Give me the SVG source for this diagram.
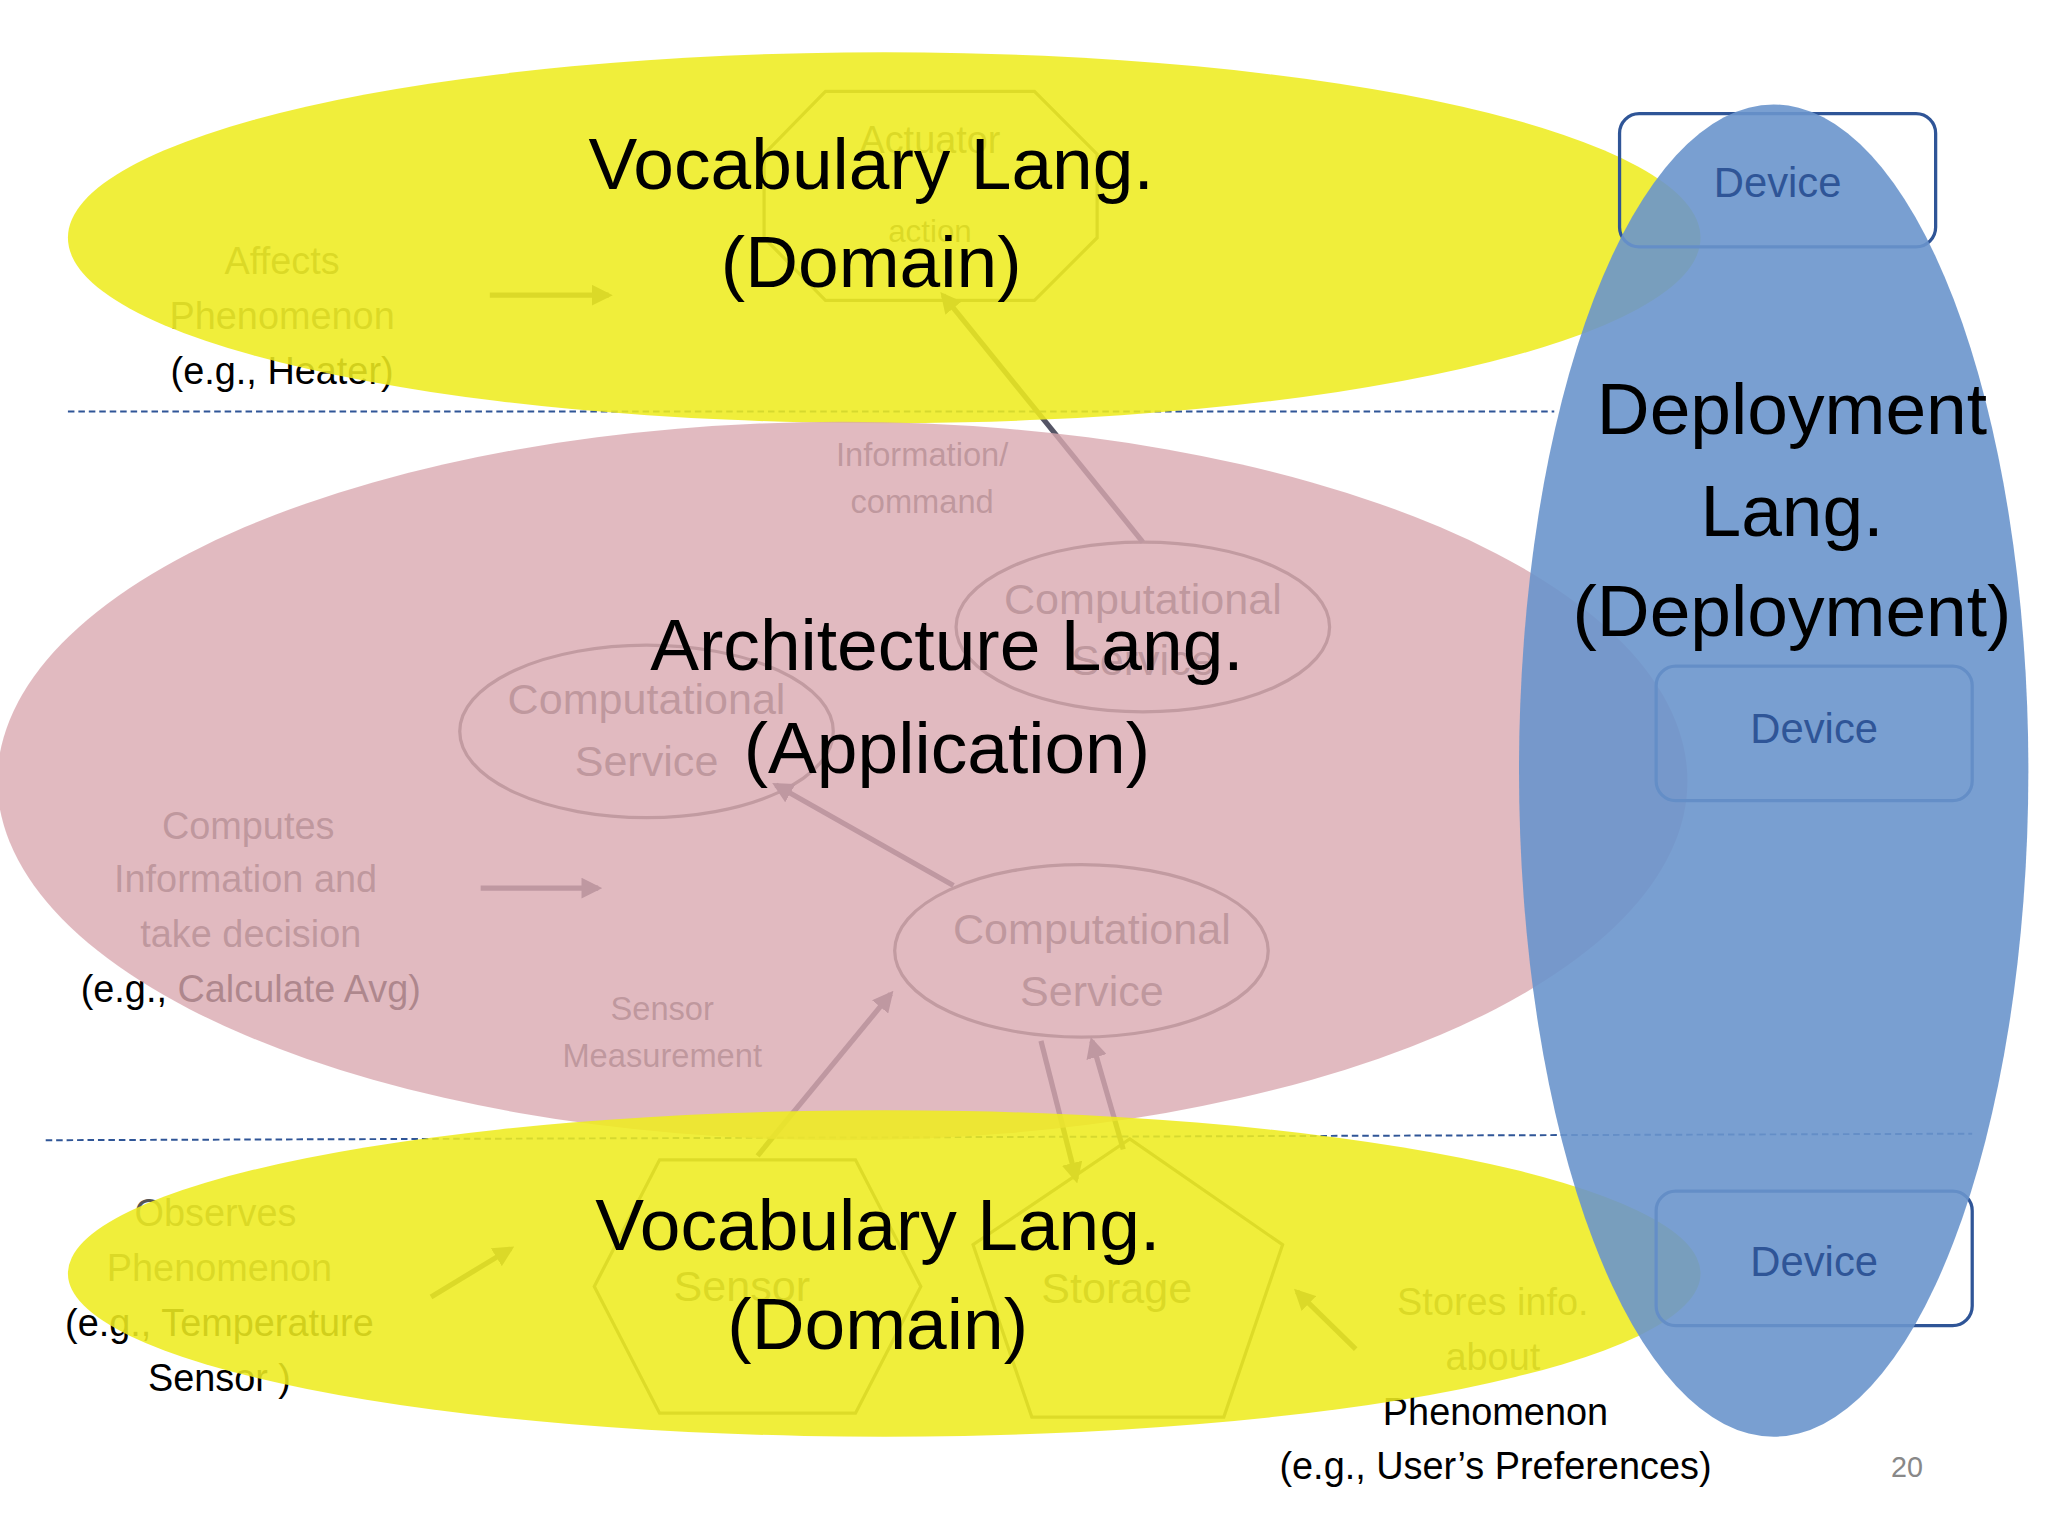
<svg xmlns="http://www.w3.org/2000/svg" width="2048" height="1536" viewBox="0 0 2048 1536">
<style>
text{font-family:"Liberation Sans",Arial,sans-serif;text-anchor:middle}
.u{font-size:29px;fill:#555}
.b{font-size:29px;fill:#000}
.big{font-size:56px;fill:#000}
.sh{fill:none;stroke:#666;stroke-width:2.5}
.ar{stroke:#556;stroke-width:4;fill:none;marker-end:url(#ah)}
.dev{fill:none;stroke:#2F5597;stroke-width:2.5}
.dt{font-size:32px;fill:#2F5597}
</style>
<defs><marker id="ah" viewBox="0 0 10 10" refX="8" refY="5" markerWidth="4" markerHeight="4" orient="auto"><path d="M0,0L10,5L0,10z" fill="#556"/></marker></defs>
<rect width="2048" height="1536" fill="#fff"/>
<g transform="scale(1.3061)">
<g id="under">
<line x1="52" y1="315" x2="1190" y2="315" stroke="#2F5597" stroke-dasharray="5,3" stroke-width="1.5"/>
<line x1="35" y1="873" x2="1510" y2="868" stroke="#2F5597" stroke-dasharray="5,3" stroke-width="1.5"/>
<polygon class="sh" points="632,70 792,70 840,118 840,182 792,230 632,230 585,182 585,118"/>
<text class="u" x="712" y="117">Actuator</text><text class="u" x="712" y="185" style="font-size:24px">action</text>
<text class="u" x="216" y="210">Affects</text><text class="u" x="216" y="252">Phenomenon</text><text class="b" x="216" y="294">(e.g., Heater)</text>
<text class="u" x="706" y="357" style="font-size:25px">Information/</text><text class="u" x="706" y="393" style="font-size:25px">command</text>
<ellipse class="sh" cx="875" cy="480" rx="143" ry="65"/><text class="u" x="875" y="470" style="font-size:33px">Computational</text><text class="u" x="875" y="517" style="font-size:33px">Service</text>
<ellipse class="sh" cx="495" cy="560" rx="143" ry="66"/><text class="u" x="495" y="547" style="font-size:33px">Computational</text><text class="u" x="495" y="594" style="font-size:33px">Service</text>
<ellipse class="sh" cx="828" cy="728" rx="143" ry="66"/><text class="u" x="836" y="723" style="font-size:33px">Computational</text><text class="u" x="836" y="770" style="font-size:33px">Service</text>
<text class="u" x="190" y="642">Computes</text><text class="u" x="188" y="683">Information and</text><text class="u" x="192" y="725">take decision</text><text class="b" x="192" y="767">(e.g., Calculate Avg)</text>
<text class="u" x="507" y="781" style="font-size:25px">Sensor</text><text class="u" x="507" y="817" style="font-size:25px">Measurement</text>
<polygon class="sh" points="455,985 505,888 655,888 705,985 655,1082 505,1082"/><text class="u" x="568" y="996" style="font-size:33px">Sensor</text>
<polygon class="sh" points="865,872 982,953 937,1085 790,1085 745,953"/><text class="u" x="855" y="998" style="font-size:33px">Storage</text>
<text class="u" x="165" y="939">Observes</text><text class="u" x="168" y="981">Phenomenon</text><text class="b" x="168" y="1023">(e.g., Temperature</text><text class="b" x="168" y="1065">Sensor )</text>
<text class="u" x="1143" y="1007">Stores info.</text><text class="u" x="1143" y="1049">about</text><text class="b" x="1145" y="1091">Phenomenon</text><text class="b" x="1145" y="1132">(e.g., User’s Preferences)</text>
<g id="connectors">
<line class="ar" x1="375" y1="226" x2="466" y2="226"/>
<line class="ar" x1="875" y1="415" x2="722" y2="226"/>
<line class="ar" x1="730" y1="678" x2="594" y2="601"/>
<line class="ar" x1="368" y1="680" x2="458" y2="680"/>
<line class="ar" x1="580" y1="885" x2="682" y2="761"/>
<line class="ar" x1="797" y1="797" x2="824" y2="903"/>
<line class="ar" x1="860" y1="880" x2="836" y2="797"/>
<line class="ar" x1="330" y1="993" x2="391" y2="956"/>
<line class="ar" x1="1038" y1="1033" x2="993" y2="989"/>
</g>
</g>
<ellipse id="topY" cx="677" cy="182" rx="625" ry="142" fill="#EEEC20" opacity="0.88"/>
<ellipse id="pink" cx="645" cy="598" rx="647" ry="275" fill="#D9A9B0" opacity="0.8"/>
<ellipse id="botY" cx="677" cy="975" rx="625" ry="125" fill="#EEEC20" opacity="0.88"/>
<g id="devices">
<rect class="dev" x="1240" y="87" width="242" height="102" rx="15"/>
<rect class="dev" x="1268" y="510" width="242" height="103" rx="15"/>
<rect class="dev" x="1268" y="912" width="242" height="103" rx="15"/>
</g>
<ellipse id="blue" cx="1358" cy="590" rx="195" ry="510" fill="#6A95CC" opacity="0.9"/>
<g id="devtext"><text class="dt" x="1361" y="151">Device</text><text class="dt" x="1389" y="569">Device</text><text class="dt" x="1389" y="977">Device</text></g>
<g id="labels">
<text class="big" x="667" y="145">Vocabulary  Lang.</text><text class="big" x="667" y="220">(Domain)</text>
<text class="big" x="725" y="513">Architecture Lang.</text><text class="big" x="725" y="592">(Application)</text>
<text class="big" x="672" y="957">Vocabulary Lang.</text><text class="big" x="672" y="1033">(Domain)</text>
<text class="big" x="1372" y="332">Deployment</text><text class="big" x="1372" y="410">Lang.</text><text class="big" x="1372" y="487">(Deployment)</text>
<text x="1460" y="1131" style="font-size:22px;fill:#888">20</text>
</g>
</g>
</svg>
